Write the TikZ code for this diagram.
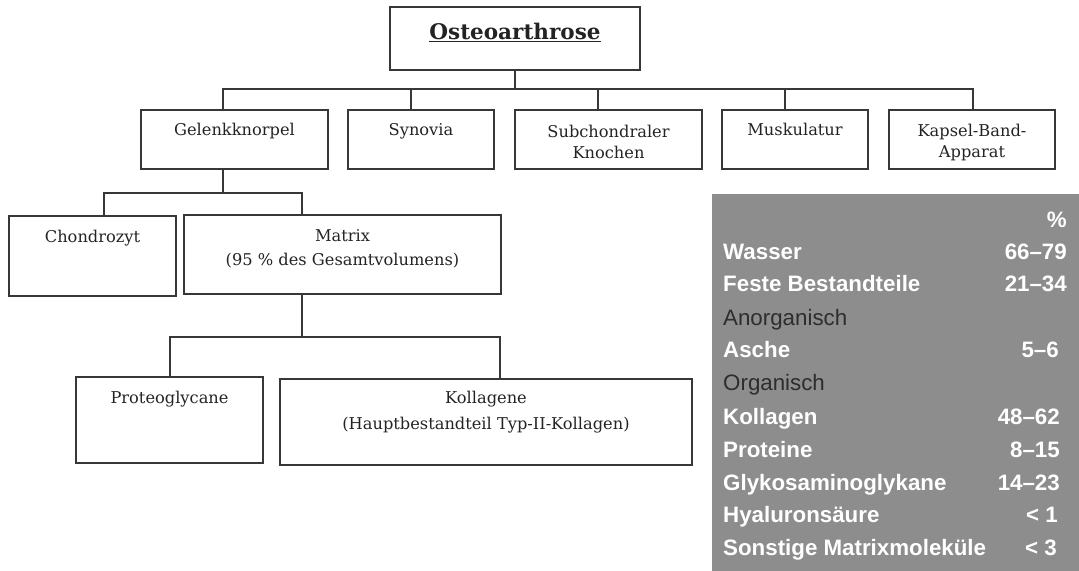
\documentclass[tikz,border=0pt]{standalone}
\usepackage{fontspec}
\setmainfont{DejaVu Serif}
\newfontfamily\tabfont{Liberation Sans}
\definecolor{linec}{RGB}{55,55,55}
\definecolor{txtc}{RGB}{35,35,35}
\definecolor{tabgray}{RGB}{141,141,141}
\definecolor{tabdark}{RGB}{45,45,45}
\begin{document}
\begin{tikzpicture}[x=1bp,y=-1bp,
  box/.style={draw=linec, line width=1.4bp, rectangle, inner sep=0pt},
  conn/.style={draw=linec, line width=1.4bp},
  txt/.style={font=\fontsize{16.3}{22}\selectfont, text=txtc, inner sep=0pt, anchor=base, align=center},
  ttl/.style={font=\bfseries\fontsize{21.6}{24}\selectfont, text=txtc, inner sep=0pt, anchor=base},
  tw/.style={font=\tabfont\bfseries\fontsize{22.4}{25}\selectfont, text=white, inner sep=0pt, anchor=base west},
  tn/.style={font=\tabfont\bfseries\fontsize{22.4}{25}\selectfont, text=white, inner sep=0pt, anchor=base east},
  td/.style={font=\tabfont\fontsize{22.4}{25}\selectfont, text=tabdark, inner sep=0pt, anchor=base west}]
\useasboundingbox (0,0) rectangle (1079,571);

% boxes
\node[box, minimum width=250bp, minimum height=63bp] (root) at (515,38.5) {};
\node[box, minimum width=187bp, minimum height=59bp] (gel) at (234.5,139.5) {};
\node[box, minimum width=146bp, minimum height=59bp] (syn) at (421,139.5) {};
\node[box, minimum width=187bp, minimum height=59bp] (sub) at (608.5,139.5) {};
\node[box, minimum width=146bp, minimum height=59bp] (mus) at (795,139.5) {};
\node[box, minimum width=166bp, minimum height=59bp] (kap) at (972,139.5) {};
\node[box, minimum width=167bp, minimum height=80bp] (cho) at (92.5,256) {};
\node[box, minimum width=317bp, minimum height=79bp] (mat) at (342.5,254.5) {};
\node[box, minimum width=187bp, minimum height=86bp] (pro) at (169.5,420) {};
\node[box, minimum width=412bp, minimum height=86bp] (kol) at (486,422) {};

% texts (multi-line nodes are anchored at the baseline of their last line)
\node[ttl] (troot) at (515,40) {\underline{Osteoarthrose}};
\node[txt] (tgel) at (234.5,136) {Gelenkknorpel};
\node[txt] (tsyn) at (421,136) {Synovia};
\node[txt] (tsub) at (608.5,159) {Subchondraler\\[0bp]Knochen};
\node[txt] (tmus) at (795,136) {Muskulatur};
\node[txt] (tkap) at (972,158) {Kapsel-Band-\\[0bp]Apparat};
\node[txt] (tcho) at (92.5,243) {Chondrozyt};
\node[txt] (tmat) at (342.5,266) {Matrix\\[2.3bp](95 \% des Gesamtvolumens)};
\node[txt] (tpro) at (169.5,403) {Proteoglycane};
\node[txt] (tkol) at (486,429) {Kollagene\\[4bp](Hauptbestandteil Typ-II-Kollagen)};

% junction coordinates
\coordinate (j0) at (515,89);
\coordinate (gelIn) at (223,110);
\coordinate (synIn) at (411,110);
\coordinate (subIn) at (598,110);
\coordinate (musIn) at (785,110);
\coordinate (kapIn) at (973,110);
\coordinate (gelOut) at (223,169);
\coordinate (j1) at (223,193);
\coordinate (choIn) at (104,216);
\coordinate (matIn) at (302,215);
\coordinate (matOut) at (302,294);
\coordinate (j2) at (302,337);
\coordinate (proIn) at (170,377);
\coordinate (kolIn) at (500,379);

% connectors
\draw[conn] (root.south) -- (j0);
\draw[conn] (gelIn) |- (j0) -| (kapIn);
\draw[conn] (synIn) -- (synIn |- j0);
\draw[conn] (subIn) -- (subIn |- j0);
\draw[conn] (musIn) -- (musIn |- j0);
\draw[conn] (gelOut) -- (j1);
\draw[conn] (choIn) |- (j1) -| (matIn);
\draw[conn] (matOut) -- (j2);
\draw[conn] (proIn) |- (j2) -| (kolIn);

% table
\node[fill=tabgray, inner sep=0pt, minimum width=367bp, minimum height=377bp] (tab) at (895.5,382.5) {};
\node[tn] (hpct) at (1067,228) {\%};
\node[tw] (r1) at (723,260) {Wasser};
\node[tn] (v1) at (1067,260) {66–79};
\node[tw] (r2) at (723,292) {Feste Bestandteile};
\node[tn] (v2) at (1067,292) {21–34};
\node[td] (r3) at (723,325) {Anorganisch};
\node[tw] (r4) at (723,357) {Asche};
\node[tn] (v4) at (1059,357) {5–6};
\node[td] (r5) at (723,390) {Organisch};
\node[tw] (r6) at (723,424) {Kollagen};
\node[tn] (v6) at (1060,424) {48–62};
\node[tw] (r7) at (723,457) {Proteine};
\node[tn] (v7) at (1060,457) {8–15};
\node[tw] (r8) at (723,490) {Glykosaminoglykane};
\node[tn] (v8) at (1060,490) {14–23};
\node[tw] (r9) at (723,522.5) {Hyaluronsäure};
\node[tn] (v9) at (1058,522.5) {< 1};
\node[tw] (r10) at (723,555) {Sonstige Matrixmoleküle};
\node[tn] (v10) at (1057,555) {< 3};
\end{tikzpicture}
\end{document}
